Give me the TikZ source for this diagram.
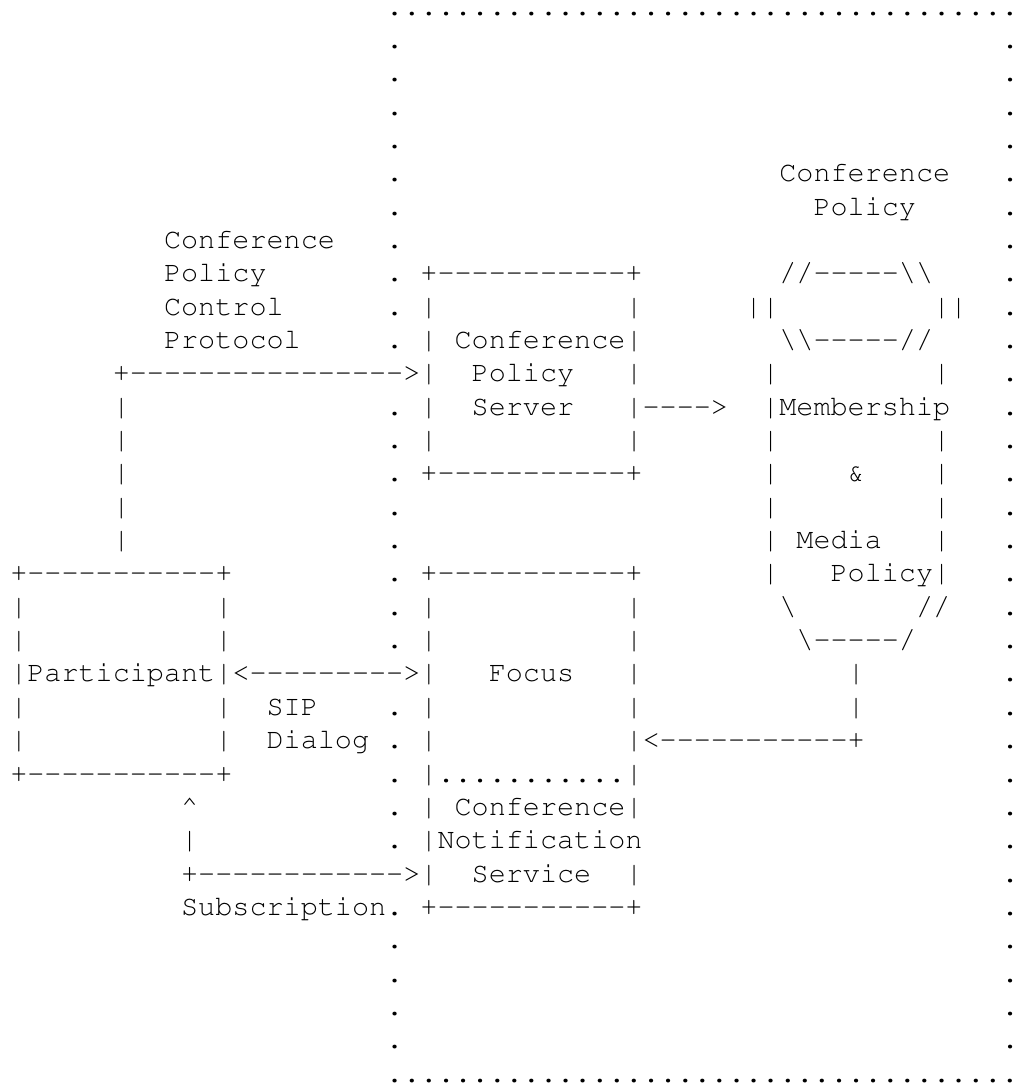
\documentclass[tikz,border=0pt]{standalone}
\usepackage[T1,TU]{fontenc}
\usepackage{tikz}

\newcommand{\asciifont}{\fontencoding{T1}\fontfamily{pcr}\fontsize{21.36pt}{25pt}\selectfont}
\newcommand{\rep}[2]{\foreach \k in {1,...,#1}{#2}}

\begin{document}
\begin{tikzpicture}[
        x=12.8175pt, y=-25pt,
        ascii/.style={anchor=base west,inner sep=0pt,outer sep=0pt,font=\asciifont},
        ]

    \useasboundingbox (-7.69pt,11.48pt) rectangle (752.06pt,-801.5pt);

    % dotted frame
    \node[ascii] (frameTop) at (22,0) {\rep{37}{.}};
    \node[ascii] (frameBot) at (22,32) {\rep{37}{.}};
    \foreach \i in {1,...,10,12,13,...,19,21,22,...,25,27,28,...,31}
        \node[ascii] (frameL\i) at (22,\i) {.};
    \foreach \i in {1,...,31}
        \node[ascii] (frameR\i) at (58,\i) {.};

    % participant
    \node[ascii] (partTop) at (0,17) {+\rep{11}{-}+};
    \node[ascii] (partBot) at (0,23) {+\rep{11}{-}+};
    \foreach \i in {18,...,22} {
        \node[ascii] (partL\i) at (0,\i) {|};
        \node[ascii] (partR\i) at (12,\i) {|};
    }
    \node[ascii] (part) at (1,20) {Participant};

    % policy server
    \node[ascii] (cpsTop) at (24,8) {+\rep{11}{-}+};
    \node[ascii] (cpsBot) at (24,14) {+\rep{11}{-}+};
    \foreach \i in {9,...,13} {
        \node[ascii] (cpsL\i) at (24,\i) {|};
        \node[ascii] (cpsR\i) at (36,\i) {|};
    }
    \node[ascii] (cps1) at (26,10) {Conference};
    \node[ascii] (cps2) at (27,11) {Policy};
    \node[ascii] (cps3) at (27,12) {Server};

    % focus
    \node[ascii] (focusTop) at (24,17) {+\rep{11}{-}+};
    \node[ascii] (focusBot) at (24,27) {+\rep{11}{-}+};
    \foreach \i in {18,...,26}
        \node[ascii] (focusL\i) at (24,\i) {|};
    \foreach \i in {18,...,24,26}
        \node[ascii] (focusR\i) at (36,\i) {|};
    \node[ascii] (focus) at (28,20) {Focus};
    \node[ascii] (notifSep) at (25,23) {\rep{11}{.}};
    \node[ascii] (notif1) at (26,24) {Conference};
    \node[ascii] (notif2) at (25,25) {Notification};
    \node[ascii] (notif3) at (27,26) {Service};

    % membership and media policy store
    \node[ascii] (dbLbl1) at (45,5) {Conference};
    \node[ascii] (dbLbl2) at (47,6) {Policy};
    \node[ascii] (dbTop) at (45,8) {//\rep{5}{-}\textbackslash\textbackslash};
    \node[ascii] (dbL) at (43,9) {||};
    \node[ascii] (dbR) at (54,9) {||};
    \node[ascii] (dbRim) at (45,10) {\textbackslash\textbackslash\rep{5}{-}//};
    \foreach \i in {11,13,14,15,16,17} {
        \node[ascii] (dbL\i) at (44,\i) {|};
        \node[ascii] (dbR\i) at (54,\i) {|};
    }
    \node[ascii] (db1) at (44,12) {|Membership};
    \node[ascii] (db2) at (49,14) {\&};
    \node[ascii] (db3) at (46,16) {Media};
    \node[ascii] (db4) at (48,17) {Policy};
    \node[ascii] (dbBotL) at (45,18) {\textbackslash};
    \node[ascii] (dbBotR) at (53,18) {//};
    \node[ascii] (dbBot) at (46,19) {\textbackslash\rep{5}{-}/};

    % policy control protocol
    \node[ascii] (cpcp1) at (9,7) {Conference};
    \node[ascii] (cpcp2) at (9,8) {Policy};
    \node[ascii] (cpcp3) at (9,9) {Control};
    \node[ascii] (cpcp4) at (9,10) {Protocol};
    \node[ascii] (cpcpArrow) at (6,11) {+\rep{16}{-}>};
    \foreach \i in {12,...,16}
        \node[ascii] (cpcpV\i) at (6,\i) {|};

    % server to store
    \node[ascii] (srvArrow) at (37,12) {\rep{4}{-}>};

    % sip dialog
    \node[ascii] (sipArrow) at (13,20) {<\rep{9}{-}>};
    \node[ascii] (sip1) at (15,21) {SIP};
    \node[ascii] (sip2) at (15,22) {Dialog};

    % store to focus
    \node[ascii] (dbV20) at (49,20) {|};
    \node[ascii] (dbV21) at (49,21) {|};
    \node[ascii] (dbArrow) at (37,22) {<\rep{11}{-}+};

    % subscription
    \node[ascii] (subUp) at (10,24) {\textasciicircum};
    \node[ascii] (subV) at (10,25) {|};
    \node[ascii] (subArrow) at (10,26) {+\rep{12}{-}>};
    \node[ascii] (subLbl) at (10,27) {Subscription};

\end{tikzpicture}
\end{document}
